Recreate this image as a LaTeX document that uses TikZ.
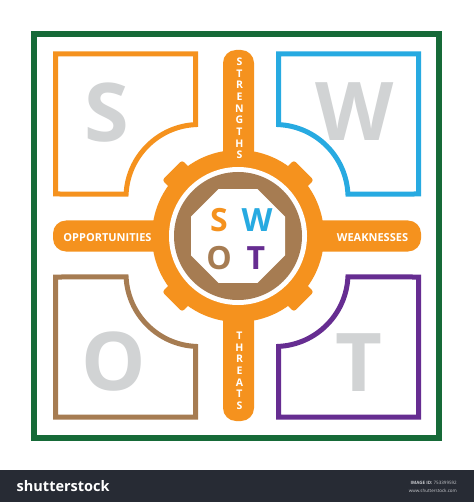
\documentclass[tikz,border=0pt]{standalone}
\usepackage{fontspec}
\setmainfont{Open Sans}
\definecolor{swotorange}{RGB}{245,146,30}
\definecolor{swotblue}{RGB}{39,170,225}
\definecolor{swotbrown}{RGB}{166,124,82}
\definecolor{swotpurple}{RGB}{102,45,145}
\definecolor{framegreen}{RGB}{22,106,56}
\definecolor{biggray}{RGB}{209,211,212}
\definecolor{bannerbg}{RGB}{39,43,52}
\definecolor{bannertext}{RGB}{200,202,206}
\begin{document}
\begin{tikzpicture}[x=1pt,y=1pt,yscale=-1,
  quadbox/.style={line width=5pt, line join=miter},
  bigletter/.style={font=\fontsize{81}{81}\selectfont\bfseries, text=biggray, inner sep=0},
  midletter/.style={font=\fontsize{32}{32}\selectfont\bfseries, inner sep=0},
  barlabel/.style={font=\fontsize{11}{11}\selectfont\bfseries, text=white, inner sep=0},
  stacklabel/.style={font=\fontsize{10.5}{11.67}\selectfont\bfseries, text=white, inner sep=0, align=center},
  barshape/.style={fill=swotorange, rounded corners=13pt},
  quadpath/.pic={
    \path[pic actions] (-181.5,-181.5) -- (-41.5,-181.5) -- (-41.5,-110.9)
      arc[start angle=267.25, end angle=182.75, radius=73] -- (-181.5,-41.5) -- cycle;
  },
]
\fill[white] (0,0) rectangle (474,502);
\useasboundingbox (0,0) rectangle (474,502);

% frame
\draw[framegreen, line width=6pt] (33.5,34.5) rectangle (439,438);

% quadrant boxes
\coordinate (Q) at (237,235.5);
\pic[draw=swotorange, quadbox, yscale=-1] at (Q) {quadpath};
\pic[draw=swotblue, quadbox, xscale=-1, yscale=-1] at (Q) {quadpath};
\pic[draw=swotbrown, quadbox] at (Q) {quadpath};
\pic[draw=swotpurple, quadbox, xscale=-1] at (Q) {quadpath};

% big letters
\node[bigletter] (bigS) at (106.5,112.5) {S};
\node[bigletter] (bigW) at (355,111.5) {W};
\node[bigletter] (bigO) at (113.5,362) {O};
\node[bigletter] (bigT) at (359,362.5) {T};

% bars
\fill[barshape] (223,50) rectangle (254,421);
\fill[barshape] (53,220.5) rectangle (421,251.5);

% gear
\coordinate (C) at (238,236);
\fill[swotorange] (C) circle (86);
\foreach \a in {45,135,225,315}
  \fill[swotorange, rounded corners=2.5pt, shift={(C)}, rotate=\a] (78,-14) rectangle (93,14);
\fill[white] (C) circle (69);
\fill[swotbrown] (C) circle (64);
\fill[white, shift={(C)}] (22.5:50.87) \foreach \k in {1,...,7} { -- (22.5+45*\k:50.87) } -- cycle;

% centre letters
\node[midletter, text=swotorange] (midS) at (219,220) {S};
\node[midletter, text=swotblue] (midW) at (257,220) {W};
\node[midletter, text=swotbrown] (midO) at (219,258) {O};
\node[midletter, text=swotpurple] (midT) at (256,258) {T};

% bar labels
\node[barlabel] (opp) at (107.5,238) {OPPORTUNITIES};
\node[barlabel] (weak) at (372.5,238) {WEAKNESSES};
\node[stacklabel] (str) at (239.5,108.3) {S\\T\\R\\E\\N\\G\\T\\H\\S};
\node[stacklabel] (thr) at (239.5,370.9) {T\\H\\R\\E\\A\\T\\S};

% banner
\fill[bannerbg] (0,469.5) rectangle (474,502);
\node[font=\fontsize{14.5}{15}\selectfont\bfseries, text=white, inner sep=0, anchor=west] (logo) at (16.5,486) {shutterstock};
\node[font=\fontsize{4.5}{5}\selectfont, text=bannertext, inner sep=0, anchor=east] (imgid) at (457,483) {\textbf{IMAGE ID:} 753399592};
\node[font=\fontsize{4.5}{5}\selectfont, text=bannertext, inner sep=0, anchor=east] (site) at (457,490.5) {www.shutterstock.com};
\end{tikzpicture}
\end{document}
